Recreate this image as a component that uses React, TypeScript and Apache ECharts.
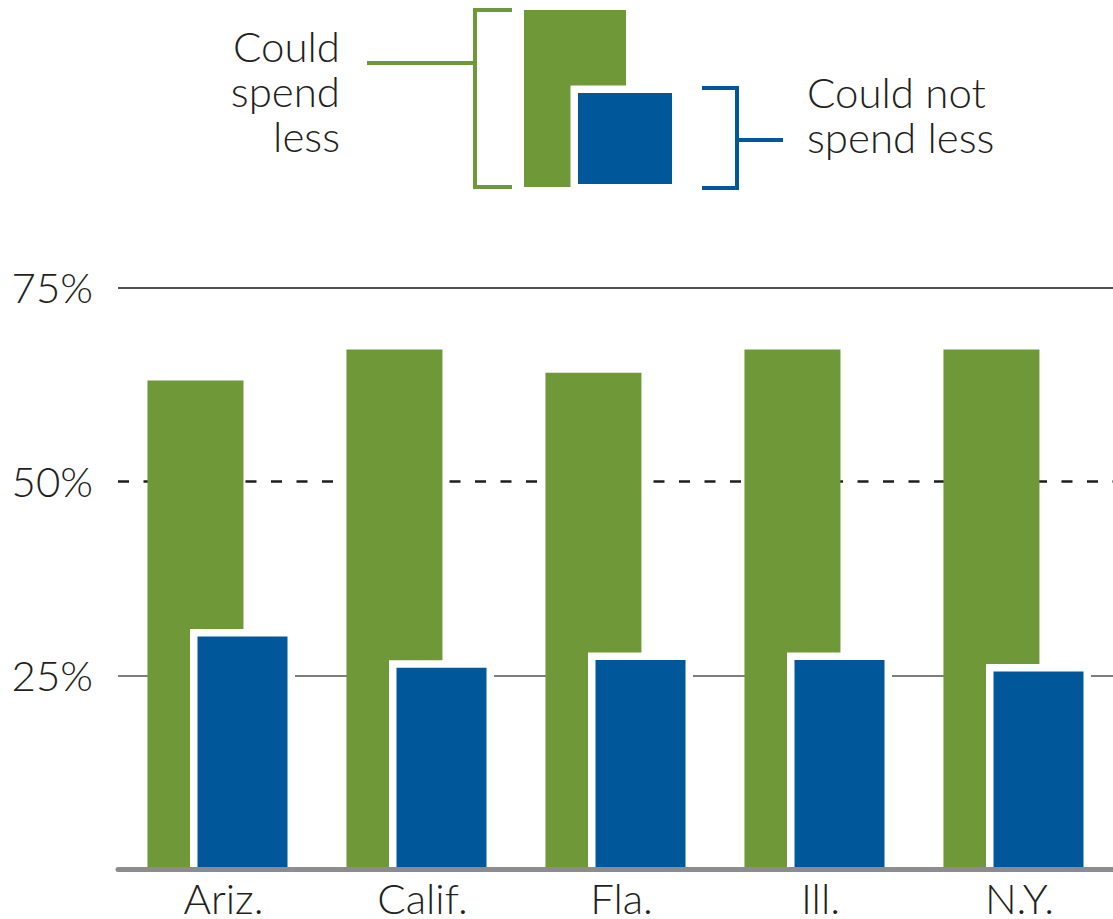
import React, { useEffect, useRef } from "react";
import * as echarts from "echarts";

// Share of households, by state
const categories = ["Ariz.", "Calif.", "Fla.", "Ill.", "N.Y."];
const couldSpendLess = [63, 67, 64, 67, 67];
const couldNotSpendLess = [30, 26, 27, 27, 25.5];

// Value axis ticks (percent)
const yMin = 0;
const yMax = 75;
const yStep = 25;

// Key labels, one entry per line
const keyLeftLines = ["Could", "spend", "less"];
const keyRightLines = ["Could not", "spend less"];

const GREEN = "#6f9938";
const BLUE = "#00589a";
const INK = "#231f20";
const FONT = "Lato";

export default function App() {
  const ref = useRef<HTMLDivElement>(null);

  useEffect(() => {
    if (!ref.current) return;
    const chart = echarts.init(ref.current, null, { renderer: "svg" });

    const greenData = categories.map((_, i) => [i, couldSpendLess[i]]);
    const blueData = categories.map((_, i) => [i, couldNotSpendLess[i]]);

    const renderGreen = (_params: any, api: any) => {
      const idx = api.value(0);
      const base = api.coord([idx, 0]);
      const top = api.coord([idx, api.value(1)]);
      const band = api.size([1, 0])[0];
      return {
        type: "rect",
        shape: {
          x: base[0] - band * 0.352,
          y: top[1],
          width: band * 0.4824,
          height: base[1] - top[1],
        },
        style: { fill: GREEN },
      };
    };

    // Blue bar sits in front of the green one, separated by a white gap
    const renderBlue = (_params: any, api: any) => {
      const idx = api.value(0);
      const base = api.coord([idx, 0]);
      const top = api.coord([idx, api.value(1)]);
      const band = api.size([1, 0])[0];
      const gap = 7.5;
      const x = base[0] - band * 0.1005;
      const w = band * 0.4523;
      return {
        type: "group",
        children: [
          {
            type: "rect",
            shape: {
              x: x - gap,
              y: top[1] - gap,
              width: w + gap * 2,
              height: base[1] - top[1] + gap,
            },
            style: { fill: "#ffffff" },
          },
          {
            type: "rect",
            shape: { x, y: top[1], width: w, height: base[1] - top[1] },
            style: { fill: BLUE },
          },
        ],
      };
    };

    const textStyle = {
      fontFamily: FONT,
      fontWeight: 300,
      fontSize: 42,
      fill: INK,
      verticalAlign: "middle",
    };
    const lineStep = 45;

    const keyLeft = keyLeftLines.map((t, i) => ({
      type: "text",
      x: 340,
      y: 45.5 + i * lineStep,
      style: { ...textStyle, text: t, align: "right" },
    }));
    const keyRight = keyRightLines.map((t, i) => ({
      type: "text",
      x: 807,
      y: 91.5 + i * lineStep,
      style: { ...textStyle, text: t, align: "left" },
    }));

    chart.setOption({
      animation: false,
      backgroundColor: "#ffffff",
      grid: { left: 118, right: 0, top: 287.3, bottom: 48.2, containLabel: false },
      xAxis: {
        type: "category",
        data: categories,
        z: 5,
        axisLine: { show: true, lineStyle: { color: "#8c8c90", width: 5 } },
        axisTick: { show: false },
        axisLabel: {
          color: INK,
          fontFamily: FONT,
          fontWeight: 300,
          fontSize: 42,
          lineHeight: 30,
          margin: 13.5,
          padding: [0, 0, 0, 12],
        },
      },
      yAxis: [
        {
          type: "value",
          min: yMin,
          max: yMax,
          interval: yStep,
          axisLine: { show: false },
          axisTick: { show: false },
          axisLabel: {
            formatter: (v: number) => (v === 0 ? "" : `${v}%`),
            color: INK,
            fontFamily: FONT,
            fontWeight: 300,
            fontSize: 42,
            margin: 25,
            padding: [0, 0, 10, 0],
          },
          splitLine: {
            show: true,
            lineStyle: {
              color: ["rgba(0,0,0,0)", "#7d7d7d", "rgba(0,0,0,0)", "#505050"],
              width: 2,
            },
          },
        },
        {
          type: "value",
          min: yMin,
          max: yMax,
          interval: yStep,
          axisLine: { show: false },
          axisTick: { show: false },
          axisLabel: { show: false },
          splitLine: {
            show: true,
            lineStyle: {
              color: ["rgba(0,0,0,0)", "rgba(0,0,0,0)", "#1e1e1e", "rgba(0,0,0,0)"],
              width: 2.5,
              type: [11, 14.5],
            },
          },
        },
      ],
      series: [
        {
          name: "Could spend less",
          type: "custom",
          renderItem: renderGreen,
          encode: { x: 0, y: 1 },
          data: greenData,
          z: 2,
        },
        {
          name: "Could not spend less",
          type: "custom",
          renderItem: renderBlue,
          encode: { x: 0, y: 1 },
          data: blueData,
          z: 3,
        },
      ],
      graphic: [
        ...keyLeft,
        {
          type: "line",
          shape: { x1: 367, y1: 63, x2: 475, y2: 63 },
          style: { stroke: GREEN, lineWidth: 4 },
        },
        {
          type: "polyline",
          shape: { points: [[512, 10], [475, 10], [475, 187], [512, 187]] },
          style: { stroke: GREEN, lineWidth: 4, fill: null },
        },
        {
          type: "rect",
          shape: { x: 524, y: 10, width: 102, height: 177 },
          style: { fill: GREEN },
        },
        {
          type: "rect",
          shape: { x: 570.5, y: 85.5, width: 109, height: 102 },
          style: { fill: "#ffffff" },
        },
        {
          type: "rect",
          shape: { x: 578, y: 93, width: 94, height: 91 },
          style: { fill: BLUE },
        },
        {
          type: "polyline",
          shape: { points: [[702, 88], [737, 88], [737, 188], [702, 188]] },
          style: { stroke: BLUE, lineWidth: 4, fill: null },
        },
        {
          type: "line",
          shape: { x1: 737, y1: 140, x2: 783, y2: 140 },
          style: { stroke: BLUE, lineWidth: 4 },
        },
        ...keyRight,
      ],
    });

    return () => chart.dispose();
  }, []);

  return (
    <div
      ref={ref}
      style={{ position: "absolute", left: 0, top: 0, width: 1113, height: 919 }}
    />
  );
}
